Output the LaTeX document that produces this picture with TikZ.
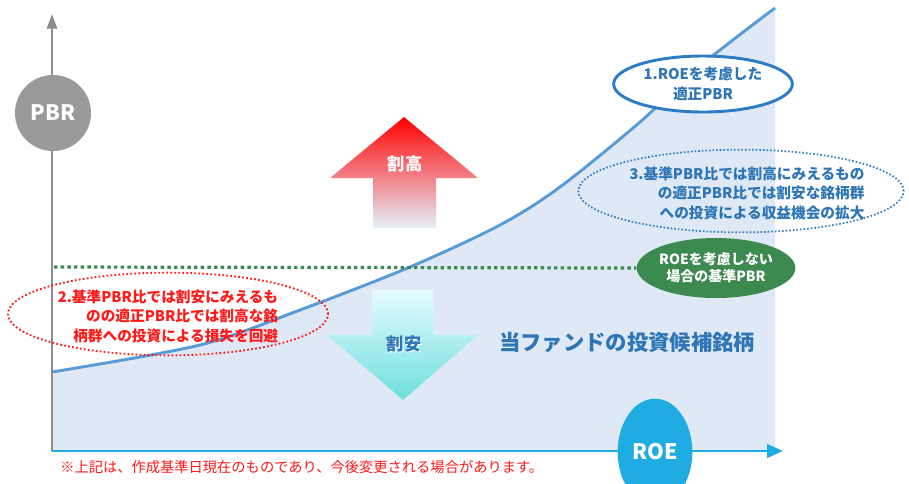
\documentclass[tikz,border=0pt]{standalone}
\usepackage{fontspec}
\setmainfont{Noto Sans CJK JP}
\usetikzlibrary{shapes.geometric,arrows.meta}
\definecolor{fillblue}{HTML}{DEE9F5}
\definecolor{curveblue}{HTML}{5B9BD5}
\definecolor{txtblue}{HTML}{2E75B6}
\definecolor{ringblue}{HTML}{2E7DC4}
\definecolor{axblue}{HTML}{1FACE3}
\definecolor{axgray}{HTML}{8C8C8C}
\definecolor{pbrgray}{HTML}{9A9A9A}
\definecolor{grn}{HTML}{3D8A50}
\definecolor{redtxt}{HTML}{FF1A1A}
\definecolor{upbottom}{HTML}{E6F0FB}
\definecolor{upmid}{HTML}{FFA3AE}
\definecolor{dntop}{HTML}{E4FCFF}
\definecolor{dnbottom}{HTML}{6EDFDD}
\tikzset{
  oval/.style={ellipse, inner sep=0pt},
  ovaltext/.style={align=right, inner sep=0pt, font=\bfseries\fontsize{11}{14.6}\selectfont},
  axislabel/.style={circle, inner sep=0pt, text=white, font=\bfseries\fontsize{16}{18}\selectfont},
}
\begin{document}
\begin{tikzpicture}[x=0.75pt,y=-0.75pt]
\useasboundingbox (0,0) rectangle (909,483);
\fill[white] (0,0) rectangle (909,483);
% shaded region under curve
\fill[fillblue] plot[smooth] coordinates {(52,372) (200,345) (300,310) (410,267) (500,225) (560,187) (640,122) (700,66) (775,8)} -- (775,451) -- (52,451) -- cycle;
\draw[curveblue, line width=2.2pt] plot[smooth] coordinates {(52,372) (200,345) (300,310) (410,267) (500,225) (560,187) (640,122) (700,66) (775,8)};
% axes
\coordinate (o) at (52,451);
\coordinate (ytop) at (52,14);
\coordinate (xend) at (783,451);
\draw[axgray, line width=2.2pt, -{Triangle[length=11pt,width=7.5pt]}] (o) -- (ytop);
\draw[axblue, line width=2.2pt, -{Triangle[length=12pt,width=10pt]}] (o) -- (xend);
\node[axislabel, fill=pbrgray, minimum size=57pt] (pbr) at (53,113) {PBR};
\node[oval, fill=axblue, minimum width=56pt, minimum height=80pt, text=white, font=\bfseries\fontsize{16}{18}\selectfont] (roe) at (655,452) {ROE};
% arrows
\shade[top color=red, middle color=upmid, bottom color=upbottom]
  (404,117) -- (478,178) -- (436,178) -- (436,228) -- (373,228) -- (373,178) -- (330,178) -- cycle;
\node[text=white, font=\bfseries\fontsize{13}{15}\selectfont] (up) at (405,164) {割高};
\shade[top color=dntop, bottom color=dnbottom]
  (372,290) -- (433,290) -- (433,335) -- (478,335) -- (403,400) -- (327,335) -- (372,335) -- cycle;
\node[text=white, font=\bfseries\fontsize{13}{15}\selectfont] (downshadow) at (405,345) {割安};
\node[text=txtblue, font=\bfseries\fontsize{13}{15}\selectfont] (down) at (404,344) {割安};
\node[text=txtblue, font=\bfseries\fontsize{16}{18}\selectfont] (fund) at (627,343) {当ファンドの投資候補銘柄};
% green baseline
\node[oval, fill=grn, minimum width=119pt, minimum height=45pt] (ge) at (716,268) {};
\node[align=center, text=white, inner sep=0pt, font=\bfseries\fontsize{10.5}{12.8}\selectfont] (gt) at (ge.center) {ROEを考慮しない\\場合の基準PBR};
\coordinate (gs) at (54,267);
\draw[grn, line width=2.4pt, dash pattern=on 2.6pt off 2.4pt] (gs) -- (ge.west);
% ellipse 1
\node[oval, draw=ringblue, fill=white, line width=2.2pt, minimum width=134pt, minimum height=42pt] (e1) at (703,84) {};
\node[align=center, text=txtblue, inner sep=0pt, font=\bfseries\fontsize{11}{14.6}\selectfont] (t1) at (e1.center) {1.ROEを考慮した\\適正PBR};
% ellipse 3
\node[oval, draw=ringblue, line width=1.3pt, dash pattern=on 1.2pt off 1.5pt, minimum width=244pt, minimum height=62pt] (e3) at (741,191) {};
\node[ovaltext, text=txtblue] (t3) at (747,193) {3.基準PBR比では割高にみえるもの\\の適正PBR比では割安な銘柄群\\への投資による収益機会の拡大};
% ellipse 2
\node[oval, draw=redtxt, line width=1.4pt, dash pattern=on 1.3pt off 1.7pt, minimum width=240pt, minimum height=62pt] (e2) at (168,314) {};
\node[ovaltext, text=redtxt] (t2) at (168,316) {2.基準PBR比では割安にみえるも\\のの適正PBR比では割高な銘\\柄群への投資による損失を回避};
% footnote
\node[anchor=west, inner sep=0pt, text=redtxt, font=\fontsize{10.7}{12}\selectfont] (note) at (60,467) {※上記は、作成基準日現在のものであり、今後変更される場合があります。};
\end{tikzpicture}
\end{document}
